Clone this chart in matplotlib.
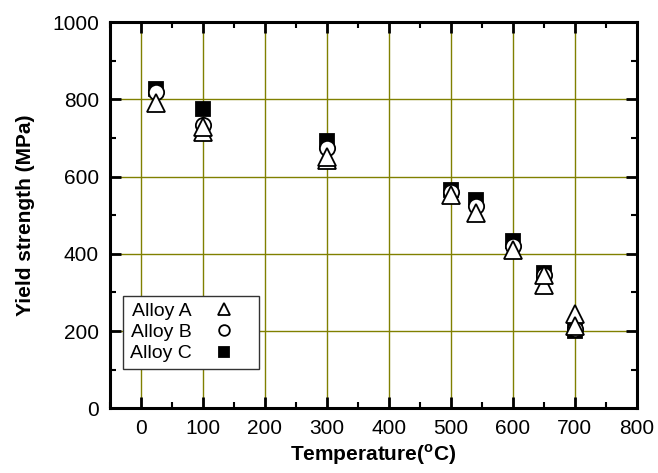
import matplotlib
matplotlib.use('Agg')
import matplotlib.pyplot as plt
from matplotlib.ticker import MultipleLocator

OUTPUT_FILE = 'out.png'

# Values
alloy_a_temp = [25, 100, 100, 300, 300, 500, 540, 600, 650, 650, 700, 700]
alloy_a_ys = [790, 715, 728, 643, 652, 553, 505, 410, 320, 345, 245, 212]

alloy_b_temp = [25, 100, 300, 500, 540, 600, 650, 700]
alloy_b_ys = [820, 735, 675, 560, 525, 420, 345, 205]

alloy_c_temp = [25, 100, 300, 500, 540, 600, 650, 700]
alloy_c_ys = [828, 775, 692, 565, 540, 432, 350, 200]

labels = ['Alloy A', 'Alloy B', 'Alloy C']

plt.rcParams['font.family'] = ['Liberation Sans', 'DejaVu Sans']
plt.rcParams['mathtext.fontset'] = 'custom'
plt.rcParams['mathtext.rm'] = 'Liberation Sans:bold'

figure = plt.figure(figsize=(6.58, 4.73), dpi=100)
ax = figure.add_axes([0.167, 0.137, 0.801, 0.816])

ax.grid(True, which='major', color='#808000', linewidth=1.0)
ax.set_axisbelow(True)

mk_opts = dict(linestyle='none', markeredgecolor='black', markeredgewidth=1.3)
hc, = ax.plot(alloy_c_temp, alloy_c_ys, marker='s', markersize=10,
              markerfacecolor='black', **mk_opts)
hb, = ax.plot(alloy_b_temp, alloy_b_ys, marker='o', markersize=11,
              markerfacecolor='white', **mk_opts)
ha, = ax.plot(alloy_a_temp, alloy_a_ys, marker='^', markersize=13,
              markerfacecolor='white', **mk_opts)

ax.set_xlim(-50, 800)
ax.set_ylim(0, 1000)
ax.xaxis.set_major_locator(MultipleLocator(100))
ax.xaxis.set_minor_locator(MultipleLocator(50))
ax.yaxis.set_major_locator(MultipleLocator(200))
ax.yaxis.set_minor_locator(MultipleLocator(100))

ax.tick_params(which='both', direction='in', top=True, right=True,
               labelsize=15, pad=8)
ax.tick_params(which='major', length=8, width=2)
ax.tick_params(which='minor', length=4, width=1.5)
for spine in ax.spines.values():
    spine.set_linewidth(2.2)

ax.set_xlabel(r'Temperature($^\mathrm{o}$C)', fontsize=15,
              fontweight='bold', labelpad=3)
ax.set_ylabel('Yield strength (MPa)', fontsize=15, fontweight='bold',
              labelpad=12)

# legend: text first, marker on the right
leg = ax.legend([ha, hb, hc], labels, loc='lower left',
                bbox_to_anchor=(0.025, 0.101), markerfirst=False,
                markerscale=0.7, fontsize=14, fancybox=False,
                framealpha=1, edgecolor='#333333', borderpad=0.35,
                labelspacing=0.18, handletextpad=0.2, handlelength=2.9,
                borderaxespad=0)
leg.get_frame().set_linewidth(1.0)

plt.savefig(OUTPUT_FILE, dpi=100)
